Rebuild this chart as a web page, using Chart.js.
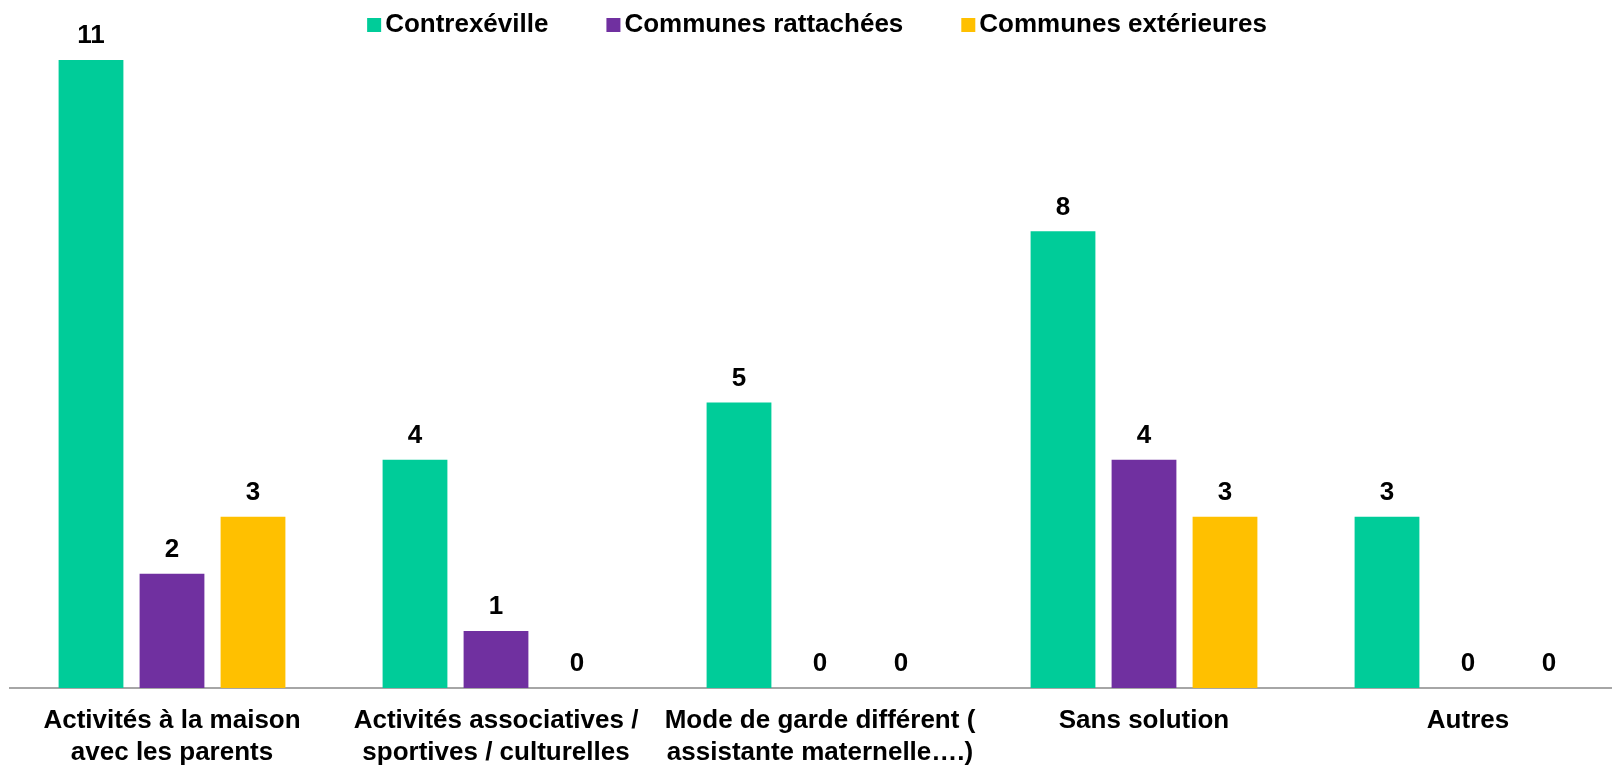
<!DOCTYPE html>
<html>
<head>
<meta charset="utf-8">
<script src="https://cdn.jsdelivr.net/npm/chart.js@4/dist/chart.umd.min.js"></script>
<style>
  html, body { margin: 0; padding: 0; background: #fff; overflow: hidden; }
  #wrap { width: 1632px; height: 765px; position: relative; }
</style>
</head>
<body>
<div id="wrap"><canvas id="chart"></canvas></div>
<script>
// categories and series
const categories = [
  ['Activités à la maison', 'avec les parents'],
  ['Activités associatives /', 'sportives / culturelles'],
  ['Mode de garde différent (', 'assistante maternelle….)'],
  'Sans solution',
  'Autres'
];
const seriesNames = ['Contrexéville', 'Communes rattachées', 'Communes extérieures'];
const contrexeville = [11, 4, 5, 8, 3];
const rattachees = [2, 1, 0, 4, 0];
const exterieures = [3, 0, 0, 3, 0];
const colors = ['#00CC99', '#7030A0', '#FFC000'];

const FONT = '"Liberation Sans", Arial, sans-serif';

// value labels above bars
const valueLabels = {
  id: 'valueLabels',
  afterDatasetsDraw(chart) {
    const ctx = chart.ctx;
    ctx.save();
    ctx.font = 'bold 26px ' + FONT;
    ctx.fillStyle = '#000';
    ctx.textAlign = 'center';
    ctx.textBaseline = 'middle';
    chart.data.datasets.forEach((ds, i) => {
      chart.getDatasetMeta(i).data.forEach((bar, j) => {
        ctx.fillText(String(ds.data[j]), bar.x, bar.y - 24);
      });
    });
    ctx.restore();
  }
};

// legend drawn over the plot, centred near the top
const topLegend = {
  id: 'topLegend',
  afterDraw(chart) {
    const ctx = chart.ctx;
    ctx.save();
    ctx.font = 'bold 26px ' + FONT;
    ctx.textBaseline = 'middle';
    const box = 14, gap = 4, spacing = 58, y = 25;
    const items = chart.data.datasets.map(ds => ({ text: ds.label, color: ds.backgroundColor }));
    const widths = items.map(it => box + gap + ctx.measureText(it.text).width);
    const total = widths.reduce((a, b) => a + b, 0) + spacing * (items.length - 1);
    let x = 817 - total / 2;
    items.forEach((it, i) => {
      ctx.fillStyle = it.color;
      ctx.fillRect(x, y - box / 2, box, box);
      ctx.fillStyle = '#000';
      ctx.fillText(it.text, x + box + gap, y);
      x += widths[i] + spacing;
    });
    ctx.restore();
  }
};

new Chart(document.getElementById('chart'), {
  type: 'bar',
  data: {
    labels: categories,
    datasets: [
      { label: seriesNames[0], data: contrexeville, backgroundColor: colors[0] },
      { label: seriesNames[1], data: rattachees, backgroundColor: colors[1] },
      { label: seriesNames[2], data: exterieures, backgroundColor: colors[2] }
    ]
  },
  options: {
    responsive: true,
    maintainAspectRatio: false,
    animation: false,
    layout: { padding: { left: 10, right: 2, top: 3, bottom: 0 } },
    datasets: { bar: { barPercentage: 0.8, categoryPercentage: 0.75 } },
    plugins: {
      legend: { display: false },
      tooltip: { enabled: false }
    },
    scales: {
      y: { display: false, min: 0, max: 12 },
      x: {
        afterFit(scale) { scale.height = 77; },
        grid: { display: false, drawTicks: false },
        border: { color: '#A6A6A6', width: 2 },
        ticks: {
          color: '#000',
          font: { family: FONT, size: 26, weight: 'bold', lineHeight: 1.23 },
          padding: 17,
          maxRotation: 0,
          autoSkip: false
        }
      }
    }
  },
  plugins: [valueLabels, topLegend]
});
</script>
</body>
</html>
